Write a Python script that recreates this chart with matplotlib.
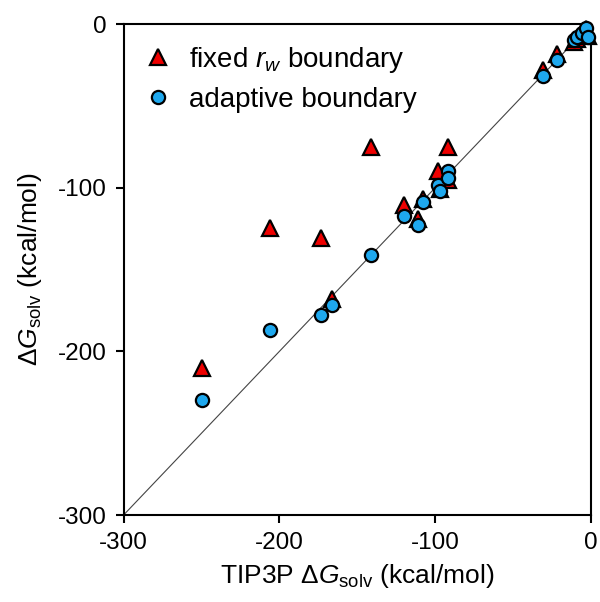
import matplotlib
matplotlib.use("Agg")
import matplotlib.pyplot as plt

plt.rcParams['font.family'] = ['Liberation Sans', 'DejaVu Sans']
plt.rcParams['mathtext.fontset'] = 'custom'
plt.rcParams['mathtext.rm'] = 'Liberation Sans'
plt.rcParams['mathtext.it'] = 'Liberation Sans:italic'
plt.rcParams['mathtext.bf'] = 'Liberation Sans:bold'
plt.rcParams['axes.unicode_minus'] = False

# TIP3P reference solvation free energies (kcal/mol)
tip3p = [-250, -206, -173, -166, -141, -120, -111, -108, -98, -97, -92, -91.5,
         -31, -22, -11, -9, -6, -3, -2]
# fixed r_w boundary results
fixed_rw = [-210, -124.5, -131, -168, -75, -110.5, -119, -107, -90, -101, -75, -95,
            -28, -18, -11, -9, -6, -3, -7]
# adaptive boundary results
adaptive = [-230, -187, -178, -171.5, -141, -117, -123, -109, -98.5, -102, -90, -94,
            -32, -22, -10, -8, -5.5, -2.5, -8]

fig = plt.figure(figsize=(6.0, 6.02), dpi=100)
ax = fig.add_axes([0.206, 0.1445, 0.779, 0.8155])

ax.plot([-300, 0], [-300, 0], color='#444444', lw=0.8, zorder=1)
ax.plot(tip3p, fixed_rw, linestyle='none', marker='^', ms=11, mfc='#ee0000',
        mec='black', mew=1.6, label=r'fixed $r_w$ boundary', zorder=2, clip_on=False)
ax.plot(tip3p, adaptive, linestyle='none', marker='o', ms=9.5, mfc='#1ea8ee',
        mec='black', mew=1.6, label='adaptive boundary', zorder=3, clip_on=False)

ax.set_xlim(-300, 0)
ax.set_ylim(-300, 0)
ax.set_xticks([-300, -200, -100, 0])
ax.set_yticks([-300, -200, -100, 0])
ax.tick_params(direction='out', length=6, width=1.5, labelsize=17.5, pad=6)
for s in ax.spines.values():
    s.set_linewidth(1.5)

ax.set_xlabel(r'TIP3P $\Delta G_{\rm solv}$ (kcal/mol)', fontsize=19, labelpad=6)
ax.set_ylabel(r'$\Delta G_{\rm solv}$ (kcal/mol)', fontsize=19, labelpad=10)

leg = ax.legend(loc='upper left', frameon=False, fontsize=20, handletextpad=0.5,
                borderaxespad=0.3, labelspacing=0.45, handlelength=1.2,
                bbox_to_anchor=(-0.003, 0.998))

fig.savefig('out.png', dpi=100)
